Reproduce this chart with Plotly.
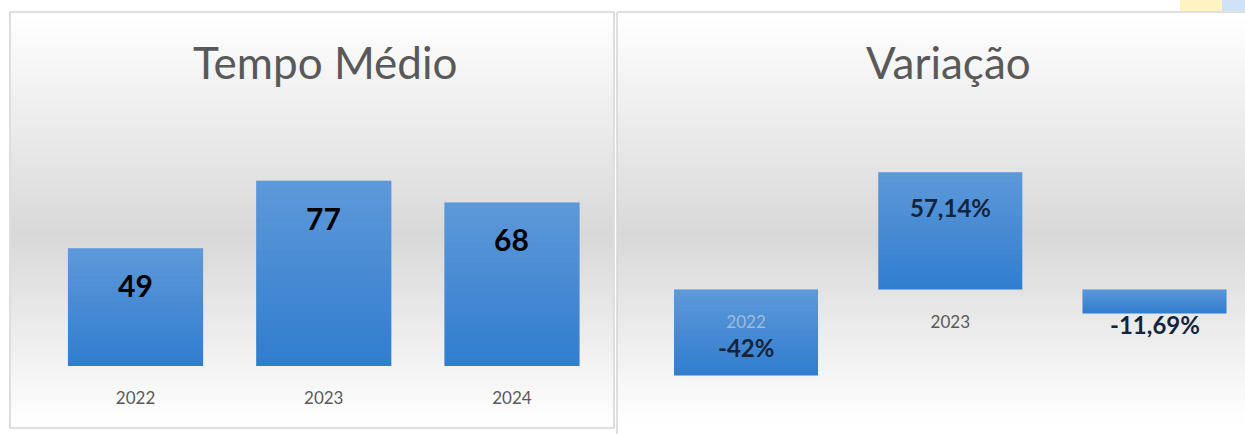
import plotly.graph_objects as go

# ---------------- data ----------------
years = ["2022", "2023", "2024"]
tempo_medio = [49, 77, 68]
variacao = [-42.0, 57.14, -11.69]
variacao_labels = ["-42%", "57,14%", "-11,69%"]
tempo_title = "Tempo Médio"
variacao_title = "Variação"

# ---------------- layout helpers ----------------
W, H = 1245, 434
def fy(p):  # screen pixel y -> paper fraction
    return (H - p) / H
def fx(p):
    return p / W

FONT = "Lato"
BAR = "#317dcf"
GRAY_TXT = "#595959"
L_WIDTH, R_WIDTH = 0.718, 0.705

fig = go.Figure()

# background gradient bands (white -> gray -> white) for both panels
def gray_at(p):
    stops = [(12, 255), (235, 216), (425, 255)]
    for (a, ca), (b, cb) in zip(stops[:-1], stops[1:]):
        if a <= p <= b:
            return ca + (cb - ca) * (p - a) / (b - a)
    return 255

shapes = []
step = 4
for x0, x1 in [(11, 613), (617, 1245)]:
    p = 12
    while p < 428:
        g = int(round(gray_at(p + step / 2)))
        shapes.append(dict(type="rect", xref="paper", yref="paper",
                           x0=fx(x0), x1=fx(x1), y0=fy(min(p + step, 428)), y1=fy(p),
                           fillcolor=f"rgb({g},{g},{g})", line=dict(width=0), layer="below"))
        p += step

# panel borders
shapes.append(dict(type="rect", xref="paper", yref="paper", x0=fx(10), x1=fx(614),
                   y0=fy(428), y1=fy(12), line=dict(color="#d4d4d4", width=1.5),
                   fillcolor="rgba(0,0,0,0)", layer="above"))
shapes.append(dict(type="line", xref="paper", yref="paper", x0=fx(617), x1=fx(617),
                   y0=0, y1=fy(12), line=dict(color="#d4d4d4", width=1.5)))
shapes.append(dict(type="line", xref="paper", yref="paper", x0=fx(617), x1=1,
                   y0=fy(12), y1=fy(12), line=dict(color="#d4d4d4", width=1.5)))
# small spreadsheet remnants top-right
shapes.append(dict(type="rect", xref="paper", yref="paper", x0=fx(1180), x1=fx(1222),
                   y0=fy(11), y1=1, fillcolor="#fff3c4", line=dict(width=0)))
shapes.append(dict(type="rect", xref="paper", yref="paper", x0=fx(1222), x1=1,
                   y0=fy(11), y1=1, fillcolor="#cfe2f6", line=dict(width=0)))

# light sheen over each bar (lighter at the top), in data coordinates
def sheen(values, xref, yref, width, n=24):
    out = []
    for i, v in enumerate(values):
        lo, hi = min(0, v), max(0, v)
        for k in range(n):
            a = 0.22 * (k + 0.5) / n   # 0 at bottom -> 0.22 at top
            out.append(dict(type="rect", xref=xref, yref=yref,
                            x0=i - width / 2, x1=i + width / 2,
                            y0=lo + (hi - lo) * k / n, y1=lo + (hi - lo) * (k + 1) / n,
                            fillcolor=f"rgba(255,255,255,{a:.3f})",
                            line=dict(width=0), layer="above"))
    return out

shapes += sheen(tempo_medio, "x", "y", L_WIDTH)
shapes += sheen(variacao, "x2", "y2", R_WIDTH)

# ---------------- traces ----------------
fig.add_trace(go.Bar(x=years, y=tempo_medio, xaxis="x", yaxis="y",
                     marker=dict(color=BAR, line=dict(width=0)), width=L_WIDTH,
                     hoverinfo="skip", showlegend=False))
fig.add_trace(go.Bar(x=years, y=variacao, xaxis="x2", yaxis="y2",
                     marker=dict(color=BAR, line=dict(width=0)), width=R_WIDTH,
                     hoverinfo="skip", showlegend=False))

# ---------------- annotations ----------------
ann = []
ann.append(dict(text=tempo_title, x=fx(325), y=fy(62), xref="paper", yref="paper",
                xanchor="center", yanchor="middle", showarrow=False,
                font=dict(family=FONT, size=44, color=GRAY_TXT)))
ann.append(dict(text=variacao_title, x=fx(948), y=fy(62), xref="paper", yref="paper",
                xanchor="center", yanchor="middle", showarrow=False,
                font=dict(family=FONT, size=44, color=GRAY_TXT)))

LEFT_SCALE = 2.405
RIGHT_SCALE = 2.05
for i, v in enumerate(tempo_medio):
    ann.append(dict(text=f"<b>{v}</b>", x=i, y=v, xref="x", yref="y", showarrow=False,
                    xanchor="center", yanchor="middle", yshift=-37,
                    font=dict(family=FONT, size=30, color="#000000")))
for i, (v, lab) in enumerate(zip(variacao, variacao_labels)):
    if v > 0:
        sh = -35
    elif abs(v) * RIGHT_SCALE > 40:
        sh = 28
    else:
        sh = -11
    ann.append(dict(text=f"<b>{lab}</b>", x=i, y=v, xref="x2", yref="y2", showarrow=False,
                    xanchor="center", yanchor="middle", yshift=sh,
                    font=dict(family=FONT, size=24, color="#14243c")))

# right-panel category labels: faint where the bar/label covers them
right_ticktext = []
for yr, v in zip(years, variacao):
    if v < 0 and abs(v) * RIGHT_SCALE > 40:
        right_ticktext.append(f"<span style='color:rgba(175,190,210,0.8)'>{yr}</span>")
    elif v < 0:
        right_ticktext.append(f"<span style='color:rgba(0,0,0,0)'>{yr}</span>")
    else:
        right_ticktext.append(yr)

# ---------------- axes ----------------
L_ZERO, L_TOP = 366, 90
R_ZERO, R_BOT, R_TOP = 289.5, 400, 90

fig.update_layout(
    width=W, height=H,
    margin=dict(l=0, r=0, t=0, b=0),
    paper_bgcolor="white", plot_bgcolor="rgba(0,0,0,0)",
    shapes=shapes, annotations=ann, showlegend=False,
    xaxis=dict(domain=[fx(41.4), fx(606.1)], range=[-0.5, 2.5], type="category",
               anchor="y", showgrid=False, zeroline=False, showline=False,
               ticks="", ticklabelstandoff=20,
               tickfont=dict(family=FONT, size=17, color=GRAY_TXT)),
    yaxis=dict(domain=[fy(L_ZERO), fy(L_TOP)],
               range=[0, (L_ZERO - L_TOP) / LEFT_SCALE],
               visible=False, showgrid=False, zeroline=False),
    xaxis2=dict(domain=[fx(643.9), 1], range=[-0.5, 2.443], type="category",
                anchor="free", position=fy(R_ZERO),
                tickmode="array", tickvals=years, ticktext=right_ticktext,
                showgrid=False, zeroline=False, showline=False,
                ticks="", ticklabelstandoff=20,
                tickfont=dict(family=FONT, size=17, color=GRAY_TXT)),
    yaxis2=dict(domain=[fy(R_BOT), fy(R_TOP)],
                range=[-(R_BOT - R_ZERO) / RIGHT_SCALE, (R_ZERO - R_TOP) / RIGHT_SCALE],
                visible=False, showgrid=False, zeroline=False),
)

fig.write_html("out.html",
               config={"displayModeBar": False},
               post_script="document.body.style.margin='0';document.body.style.overflow='hidden';")
